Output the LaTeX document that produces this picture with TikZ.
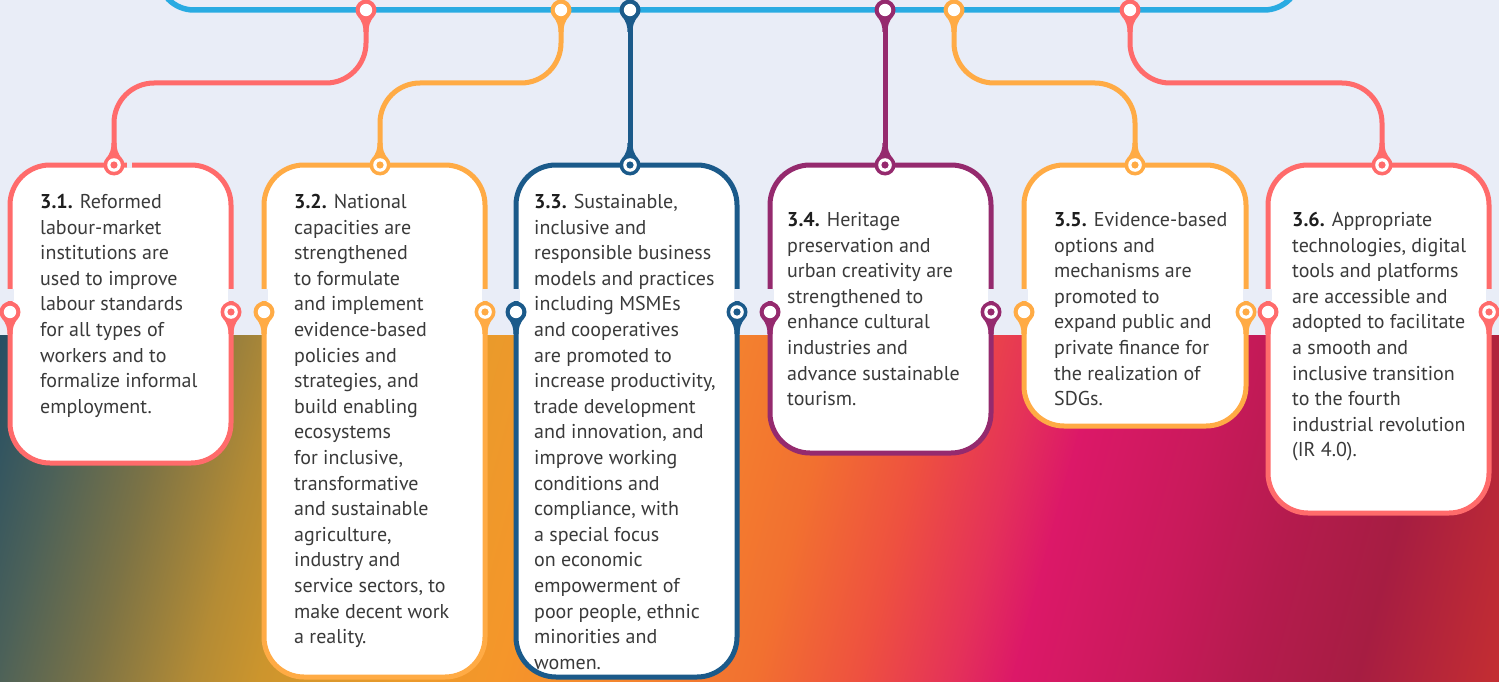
\documentclass[tikz,border=0pt]{standalone}
\usepackage{fontspec}
\setmainfont{PT Sans}
\definecolor{lightbg}{HTML}{E9EDF7}
\definecolor{skyline}{HTML}{29ABE2}
\definecolor{coral}{HTML}{FF6B6B}
\definecolor{amber}{HTML}{FFAB45}
\definecolor{navy}{HTML}{1B5A8A}
\definecolor{plum}{HTML}{952A6E}
\definecolor{txtgray}{HTML}{3A3A3A}
\definecolor{numcol}{HTML}{1E1E1E}
\definecolor{g0}{HTML}{224D65}
\definecolor{g1}{HTML}{4E6258}
\definecolor{g2}{HTML}{7F7444}
\definecolor{g3}{HTML}{B38B35}
\definecolor{g4}{HTML}{CC952D}
\definecolor{g5}{HTML}{EA9A2B}
\definecolor{g6}{HTML}{F5962A}
\definecolor{g7}{HTML}{F4852E}
\definecolor{g8}{HTML}{F27030}
\definecolor{g9}{HTML}{EE5040}
\definecolor{g10}{HTML}{E4305A}
\definecolor{g11}{HTML}{DC1868}
\definecolor{g12}{HTML}{C81A5A}
\definecolor{g13}{HTML}{B51B4E}
\definecolor{g14}{HTML}{A61D42}
\definecolor{g15}{HTML}{C8302F}
\newcommand\boxlines[1]{\vtop{\halign{##\hfil\cr#1\crcr}}}
\newcommand\num[1]{\textbf{\textcolor{numcol}{#1}}}
\tikzset{
  conn/.style={line width=5pt, draw=#1, rounded corners=40pt},
  boxst/.style={draw=#1, fill=white, line width=5pt, rounded corners=40pt,
    inner sep=0pt, outer sep=0pt, anchor=north west},
  txt/.style={anchor=base west, inner sep=0pt, text=txtgray,
    font=\fontsize{20pt}{25.6pt}\selectfont},
  pics/hollowdown/.style={code={
    \fill[#1] (-8,6) .. controls (-4,12) and (-2.5,15) .. (-2.5,22) -- (2.5,22)
      .. controls (2.5,15) and (4,12) .. (8,6) -- cycle;
    \fill[#1] (0,0) circle[radius=10.5pt];
    \fill[white] (0,0) circle[radius=6.2pt];
  }},
  pics/dotdown/.style={code={
    \fill[#1] (-8,6) .. controls (-4,12) and (-2.5,15) .. (-2.5,22) -- (2.5,22)
      .. controls (2.5,15) and (4,12) .. (8,6) -- cycle;
    \fill[#1] (0,0) circle[radius=10.5pt];
    \fill[white] (0,0) circle[radius=6.8pt];
    \fill[#1] (0,0) circle[radius=3.6pt];
  }},
  pics/dotup/.style={code={
    \fill[#1] (-8,-6) .. controls (-4,-12) and (-2.5,-15) .. (-2.5,-22) -- (2.5,-22)
      .. controls (2.5,-15) and (4,-12) .. (8,-6) -- cycle;
    \fill[#1] (0,0) circle[radius=10.5pt];
    \fill[white] (0,0) circle[radius=6.8pt];
    \fill[#1] (0,0) circle[radius=3.6pt];
  }},
}
\begin{document}
\begin{tikzpicture}[x=1pt,y=-1pt]
\useasboundingbox (0,0) rectangle (1499,682);
\clip (0,0) rectangle (1499,682);
% backgrounds
\fill[lightbg] (0,0) rectangle (1499,336);
\begin{scope}
  \clip (0,335) rectangle (1499,682);
  \begin{scope}[transform canvas={xslant=0.27}]
    \foreach \xa/\ca/\xb/\cb in {-300/g0/-100/g0, -100/g0/0/g1, 0/g1/96/g2, 96/g2/191/g3,
      191/g3/258/g4, 258/g4/400/g5, 400/g5/497/g6, 497/g6/620/g7, 620/g7/755/g8,
      755/g8/860/g9, 860/g9/956/g10, 956/g10/1013/g11, 1013/g11/1147/g12,
      1147/g12/1243/g13, 1243/g13/1357/g14, 1357/g14/1520/g15, 1520/g15/1800/g15}{
      \shade[left color=\ca, right color=\cb] (\xa+183,320) rectangle (\xb+184,700);
    }
  \end{scope}
\end{scope}
% coordinates
\coordinate (blL) at (158,-40);
\coordinate (blR) at (1300,-40);
\coordinate (tp31) at (366,10);
\coordinate (tp32) at (561,10);
\coordinate (tp33) at (630,10);
\coordinate (tp34) at (885,10);
\coordinate (tp35) at (954,10);
\coordinate (tp36) at (1130,10);
\coordinate (bp31) at (114,165);
\coordinate (bp32) at (380,165);
\coordinate (bp33) at (630,165);
\coordinate (bp34) at (885,165);
\coordinate (bp35) at (1135,165);
\coordinate (bp36) at (1382,165);
\coordinate (hz) at (0,83);
% top blue line
\draw[line width=5.5pt, skyline, rounded corners=36pt] (blL) |- (tp33) -| (blR);
% connectors
\draw[conn=coral] (tp31) -- (tp31 |- hz) -| (bp31);
\draw[conn=amber] (tp32) -- (tp32 |- hz) -| (bp32);
\draw[conn=navy] (tp33) -- (bp33);
\draw[conn=plum] (tp34) -- (bp34);
\draw[conn=amber] (tp35) -- (tp35 |- hz) -| (bp35);
\draw[conn=coral] (tp36) -- (tp36 |- hz) -| (bp36);
% boxes
\node[boxst=coral, minimum width=221pt, minimum height=298pt] (b31) at (10,165) {};
\node[boxst=amber, minimum width=221pt, minimum height=512pt] (b32) at (264,165) {};
\node[boxst=navy, minimum width=221pt, minimum height=512pt] (b33) at (516,165) {};
\node[boxst=plum, minimum width=221pt, minimum height=288pt] (b34) at (770,165) {};
\node[boxst=amber, minimum width=222pt, minimum height=261pt] (b35) at (1024,165) {};
\node[boxst=coral, minimum width=221pt, minimum height=348pt] (b36) at (1268,165) {};
% gaps in borders above side pins
\foreach \gx in {10,231,264,485,516,737,770,991,1024,1246,1268,1489}{
  \fill[lightbg] (\gx-3.5,289) rectangle (\gx+3.5,301);
}
\fill[lightbg] (127,162) rectangle (132,168);
% top-line pins
\pic at (tp31) {hollowdown=coral};
\pic at (tp32) {hollowdown=amber};
\pic at (tp33) {hollowdown=navy};
\pic at (tp34) {hollowdown=plum};
\pic at (tp35) {hollowdown=amber};
\pic at (tp36) {hollowdown=coral};
% box top pins
\pic at (bp31) {dotup=coral};
\pic at (bp32) {dotup=amber};
\pic at (bp33) {dotup=navy};
\pic at (bp34) {dotup=plum};
\pic at (bp35) {dotup=amber};
\pic at (bp36) {dotup=coral};
% side pins
\pic at (10,312) {hollowdown=coral};
\pic at (231,312) {dotdown=coral};
\pic at (264,312) {hollowdown=amber};
\pic at (485,312) {dotdown=amber};
\pic at (516,312) {hollowdown=navy};
\pic at (737,312) {dotdown=navy};
\pic at (770,312) {hollowdown=plum};
\pic at (991,312) {dotdown=plum};
\pic at (1024,312) {hollowdown=amber};
\pic at (1246,312) {dotdown=amber};
\pic at (1268,312) {hollowdown=coral};
\pic at (1489,312) {dotdown=coral};
% texts
\node[txt] (t31) at (40,208.5) {\boxlines{\num{3.1.} Reformed\cr labour-market\cr institutions are\cr used to improve\cr labour standards\cr for all types of\cr workers and to\cr formalize informal\cr employment.}};
\node[txt] (t32) at (294,208.5) {\boxlines{\num{3.2.} National\cr capacities are\cr strengthened\cr to formulate\cr and implement\cr evidence-based\cr policies and\cr strategies, and\cr build enabling\cr ecosystems\cr for inclusive,\cr transformative\cr and sustainable\cr agriculture,\cr industry and\cr service sectors, to\cr make decent work\cr a reality.}};
\node[txt] (t33) at (534,208.5) {\boxlines{\num{3.3.} Sustainable,\cr inclusive and\cr responsible business\cr models and practices\cr including MSMEs\cr and cooperatives\cr are promoted to\cr increase productivity,\cr trade development\cr and innovation, and\cr improve working\cr conditions and\cr compliance, with\cr a special focus\cr on economic\cr empowerment of\cr poor people, ethnic\cr minorities and\cr women.}};
\node[txt] (t34) at (787,226.5) {\boxlines{\num{3.4.} Heritage\cr preservation and\cr urban creativity are\cr strengthened to\cr enhance cultural\cr industries and\cr advance sustainable\cr tourism.}};
\node[txt] (t35) at (1054,226.5) {\boxlines{\num{3.5.} Evidence-based\cr options and\cr mechanisms are\cr promoted to\cr expand public and\cr private finance for\cr the realization of\cr SDGs.}};
\node[txt] (t36) at (1292,226.5) {\boxlines{\num{3.6.} Appropriate\cr technologies, digital\cr tools and platforms\cr are accessible and\cr adopted to facilitate\cr a smooth and\cr inclusive transition\cr to the fourth\cr industrial revolution\cr (IR 4.0).}};
\end{tikzpicture}
\end{document}
